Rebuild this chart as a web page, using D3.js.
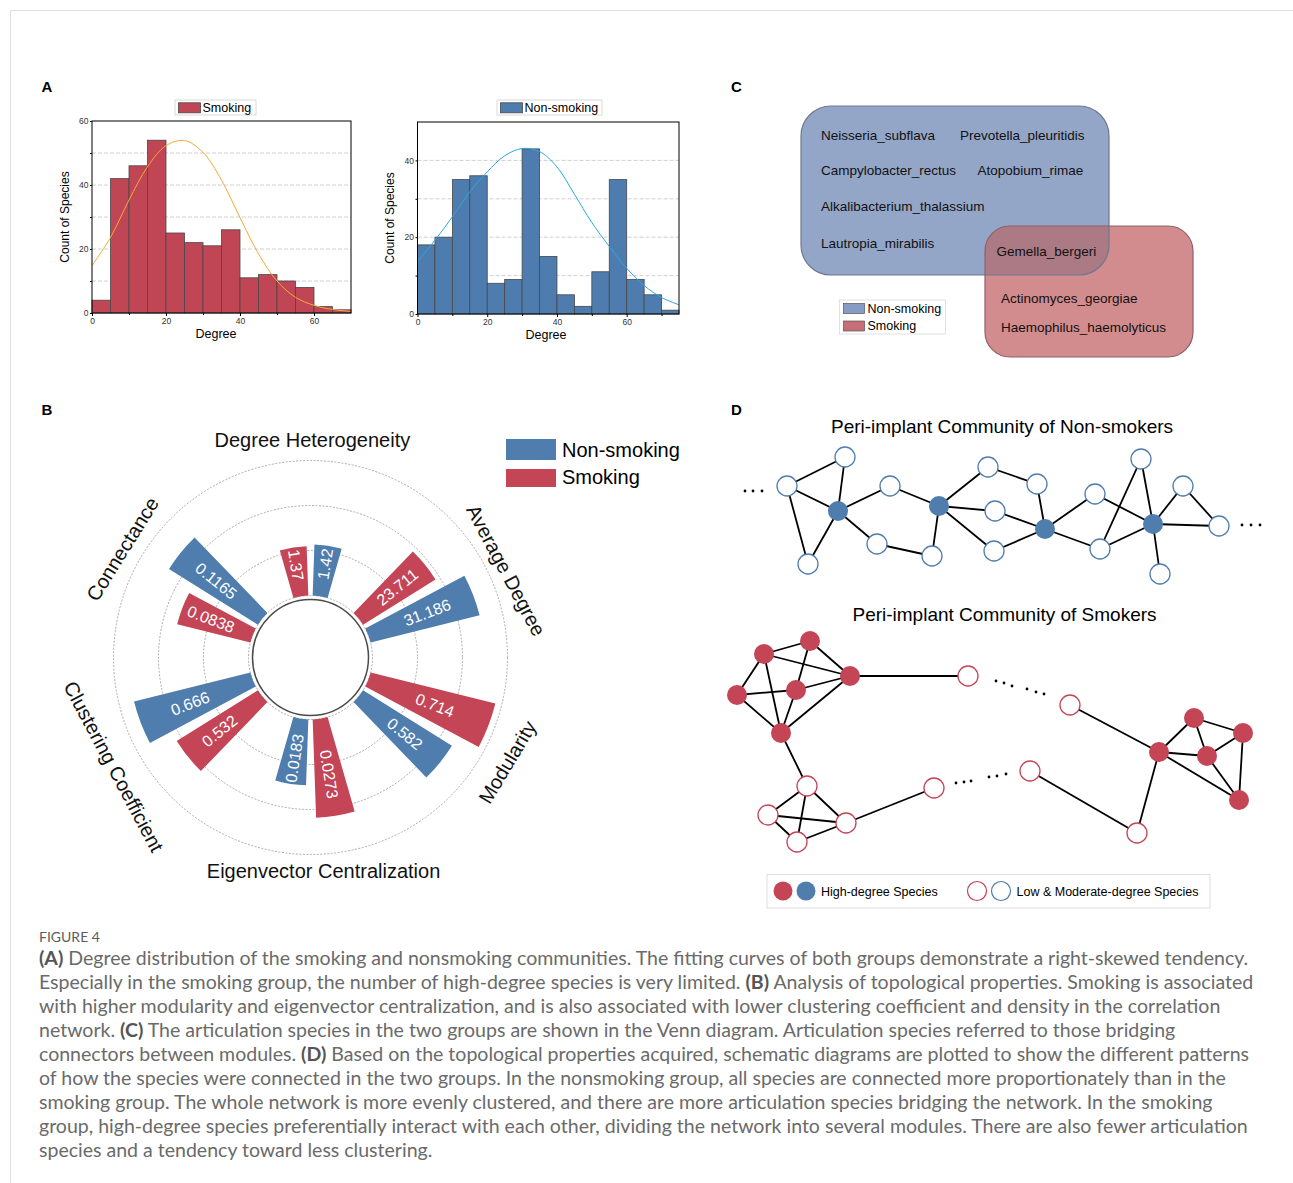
<!DOCTYPE html>
<html>
<head>
<meta charset="utf-8">
<script src="https://cdn.jsdelivr.net/npm/d3@7"></script>
<style>
  body { margin: 0; background: #fff; }
  text { font-family: "Liberation Sans", Arial, sans-serif; }
  text.caption, text.caption tspan { font-family: Lato, "Open Sans", sans-serif; }
</style>
</head>
<body>
<script>
// ---- data ----
const binEdges = [0, 5, 10, 15, 20, 25, 30, 35, 40, 45, 50, 55, 60, 65, 70, 75];
const smokingCounts = [4, 42, 46, 54, 25, 22, 21, 26, 11, 12, 10, 8, 2, 1];
const nonSmokingCounts = [18, 20, 35, 36, 8, 9, 43, 15, 5, 2, 11, 35, 9, 5, 1];
const fitDegree = [0, 5, 10, 15, 20, 25, 30, 35, 40, 45, 50, 55, 60, 65, 70, 75];
const smokingFit = [14.8, 23.6, 35.3, 45.7, 52.3, 53.9, 50.2, 41.5, 29.8, 18.5, 10, 4.9, 2.4, 1.1, 0.5];
const nonSmokingFit = [13.7, 19.2, 25.3, 31.8, 37, 41.2, 43.1, 42.3, 38.3, 31.2, 23.8, 17.6, 11.9, 7.4, 4.3, 2.4];
const degreeTicks = [0, 20, 40, 60];
const degreeMinorTicks = [10, 30, 50, 70];
const smokingCountTicks = [0, 20, 40, 60];
const nonSmokingCountTicks = [0, 20, 40];

const metrics = ["Degree Heterogeneity", "Average Degree", "Modularity",
  "Eigenvector Centralization", "Clustering Coefficient", "Connectance"];
const groups = ["Smoking", "Non-smoking"];
const smokingMetric = [1.37, 23.711, 0.714, 0.0273, 0.532, 0.0838];
const nonSmokingMetric = [1.42, 31.186, 0.582, 0.0183, 0.666, 0.1165];
const metricMax = [5, 50, 1, 0.05, 1, 0.2];
const gridFractions = [0, 0.25, 0.5, 0.75];

const nonSmokingOnly = ["Neisseria_subflava", "Prevotella_pleuritidis", "Campylobacter_rectus",
  "Atopobium_rimae", "Alkalibacterium_thalassium", "Lautropia_mirabilis"];
const sharedSpecies = ["Gemella_bergeri"];
const smokingOnly = ["Actinomyces_georgiae", "Haemophilus_haemolyticus"];

// schematic networks, layout units inside panel D
const nsNodeX = [57, 115, 108, 78, 160, 147, 209, 202, 258, 307, 265, 264, 315, 365, 370, 411, 423, 453, 489, 430];
const nsNodeY = [46, 17, 71, 124, 46, 104, 66, 116, 27, 44, 71, 111, 89, 54, 109, 19, 84, 46, 86, 134];
const nsHub = [0, 0, 1, 0, 0, 0, 1, 0, 0, 0, 0, 0, 1, 0, 0, 0, 1, 0, 0, 0];
const nsEdges = [[0,1],[0,2],[0,3],[1,2],[2,3],[2,4],[2,5],[4,6],[5,7],[6,7],[6,8],[6,10],[6,11],
  [8,9],[9,12],[10,12],[11,12],[12,13],[12,14],[13,16],[14,15],[14,16],[15,16],[16,17],[16,18],[17,18],[16,19]];
const nsDots = [[15,51],[23,51],[32,51],[512,85],[521,85],[530,85]];

const smNodeX = [34, 80, 120, 7, 66, 51, 238, 340, 464, 513, 429, 477, 509, 407, 300, 204, 77, 38, 116, 67];
const smNodeY = [214, 201, 236, 255, 250, 293, 236, 265, 278, 293, 312, 316, 360, 393, 331, 348, 346, 375, 383, 402];
const smHub = [1, 1, 1, 1, 1, 1, 0, 0, 1, 1, 1, 1, 1, 0, 0, 0, 0, 0, 0, 0];
const smEdges = [[0,1],[0,3],[0,2],[0,5],[1,4],[1,2],[3,4],[4,2],[3,5],[4,5],[2,5],[5,16],[2,6],
  [16,17],[16,18],[16,19],[17,18],[17,19],[19,18],[18,15],[7,10],[10,8],[10,11],[10,12],[8,9],[8,11],
  [11,9],[11,12],[9,12],[10,13],[13,14]];
const smDots = [[266,241],[274,243],[282,246],[297,249],[306,252],[314,254],
  [226,343],[234,342],[241,341],[259,337],[267,336],[276,334]];

const captionLines = [
  "(A) Degree distribution of the smoking and nonsmoking communities. The fitting curves of both groups demonstrate a right-skewed tendency.",
  "Especially in the smoking group, the number of high-degree species is very limited. (B) Analysis of topological properties. Smoking is associated",
  "with higher modularity and eigenvector centralization, and is also associated with lower clustering coefficient and density in the correlation",
  "network. (C) The articulation species in the two groups are shown in the Venn diagram. Articulation species referred to those bridging",
  "connectors between modules. (D) Based on the topological properties acquired, schematic diagrams are plotted to show the different patterns",
  "of how the species were connected in the two groups. In the nonsmoking group, all species are connected more proportionately than in the",
  "smoking group. The whole network is more evenly clustered, and there are more articulation species bridging the network. In the smoking",
  "group, high-degree species preferentially interact with each other, dividing the network into several modules. There are also fewer articulation",
  "species and a tendency toward less clustering."
];

// ---- colours ----
const BLUE = "#4f7dae", RED = "#c34556";

const svg = d3.select("body").append("svg").attr("width", 1293).attr("height", 1183);

svg.append("rect").attr("x", 10.5).attr("y", 10.5).attr("width", 1300).attr("height", 1200)
  .attr("fill", "none").attr("stroke", "#dedede");

[["A", 41.5, 92], ["B", 41.5, 415], ["C", 731, 92], ["D", 731, 415]].forEach(p => {
  svg.append("text").attr("x", p[1]).attr("y", p[2]).text(p[0])
    .attr("font-size", 15).attr("font-weight", "bold");
});

// ---- panel A ----
function drawHistogram(o) {
  const g = svg.append("g");
  const x = d3.scaleLinear().domain([0, o.xMax]).range([o.left, o.right]);
  const y = d3.scaleLinear().domain([0, o.yMax]).range([o.bottom, o.top]);

  g.selectAll(".grid").data(d3.range(10, o.yMax, 10)).enter().append("line")
    .attr("x1", o.left).attr("x2", o.right)
    .attr("y1", d => y(d)).attr("y2", d => y(d))
    .attr("stroke", "#c4c4c4").attr("stroke-width", 0.8).attr("stroke-dasharray", "4,2");

  g.selectAll(".bar").data(o.counts).enter().append("rect")
    .attr("x", (d, i) => x(binEdges[i]))
    .attr("width", (d, i) => x(binEdges[i + 1]) - x(binEdges[i]))
    .attr("y", d => y(d))
    .attr("height", d => y(0) - y(d))
    .attr("fill", o.color).attr("stroke", "#474747").attr("stroke-width", 0.8);

  const line = d3.line().x((d, i) => x(fitDegree[i])).y(d => y(d)).curve(d3.curveCatmullRom);
  g.append("path").datum(o.fit).attr("d", line)
    .attr("fill", "none").attr("stroke", o.curveColor).attr("stroke-width", 1);

  g.append("rect").attr("x", o.left).attr("y", o.top)
    .attr("width", o.right - o.left).attr("height", o.bottom - o.top)
    .attr("fill", "none").attr("stroke", "#000").attr("stroke-width", 1);

  const style = a => {
    a.select(".domain").remove();
    a.selectAll("line").attr("stroke", "#000");
    a.selectAll("text").attr("font-size", 8.5).attr("fill", "#333");
  };
  g.append("g").attr("transform", `translate(0,${o.bottom})`)
    .call(d3.axisBottom(x).tickValues(degreeTicks).tickSize(3).tickPadding(2)).call(style);
  g.append("g").attr("transform", `translate(0,${o.bottom})`)
    .call(d3.axisBottom(x).tickValues(degreeMinorTicks.filter(d => d < o.xMax)).tickSize(2).tickFormat("")).call(style);
  g.append("g").attr("transform", `translate(${o.left},0)`)
    .call(d3.axisLeft(y).tickValues(o.yTicks).tickSize(2).tickPadding(1.5)).call(style);
  g.append("g").attr("transform", `translate(${o.left},0)`)
    .call(d3.axisLeft(y).tickValues(d3.range(10, o.yMax, 20)).tickSize(2).tickFormat("")).call(style);

  g.append("text").attr("transform", `translate(${o.left - 23.5},${(o.top + o.bottom) / 2}) rotate(-90)`)
    .attr("text-anchor", "middle").attr("font-size", 12).text("Count of Species");
  g.append("text").attr("x", o.titleX).attr("y", o.bottom + 25)
    .attr("text-anchor", "middle").attr("font-size", 12.5).text("Degree");

  const lg = g.append("g").attr("transform", `translate(${o.legendX},100)`);
  lg.append("rect").attr("width", o.legendW).attr("height", 15)
    .attr("fill", "#fff").attr("stroke", "#d0d0d0").attr("stroke-width", 0.8);
  lg.append("rect").attr("x", 3.5).attr("y", 2.8).attr("width", 22).attr("height", 10)
    .attr("fill", o.color).attr("stroke", "#474747").attr("stroke-width", 0.8);
  lg.append("text").attr("x", 27.5).attr("y", 12).attr("font-size", 12.5).text(o.name);
}

drawHistogram({ left: 92, right: 351, top: 121, bottom: 313, xMax: 70, yMax: 60,
  counts: smokingCounts, fit: smokingFit, yTicks: smokingCountTicks, titleX: 216,
  color: "#c14655", curveColor: "#f5a937", name: "Smoking", legendX: 175, legendW: 81 });
drawHistogram({ left: 417.5, right: 679, top: 122, bottom: 314, xMax: 75, yMax: 50,
  counts: nonSmokingCounts, fit: nonSmokingFit, yTicks: nonSmokingCountTicks, titleX: 546,
  color: "#4e7caf", curveColor: "#2aa8df", name: "Non-smoking", legendX: 497, legendW: 105 });

// ---- panel B ----
const cx = 310.5, cy = 657.5, r0 = 62, rMax = 242;
const pg = svg.append("g").attr("transform", `translate(${cx},${cy})`);
const angle = d3.scaleBand().domain(metrics).range([-Math.PI / 6, 2 * Math.PI - Math.PI / 6]);
const sub = d3.scaleBand().domain(groups)
  .range([-16 * Math.PI / 180, 16 * Math.PI / 180]).paddingInner(4 / 18);
const gridR = d3.scaleLinear().domain([0, 1]).range([r0, rMax]);
const radial = metricMax.map(m => d3.scaleLinear().domain([0, m]).range([r0, rMax]));

pg.selectAll(".ring").data(gridFractions).enter().append("circle")
  .attr("r", d => gridR(d)).attr("fill", "none")
  .attr("stroke", "#8a8a8a").attr("stroke-width", 0.7).attr("stroke-dasharray", "2,1.5");
pg.append("circle").attr("r", 58).attr("fill", "#fff").attr("stroke", "#4a4a4a").attr("stroke-width", 1.5);

const barData = [];
metrics.forEach((m, i) => {
  barData.push({ m, i, g: "Smoking", v: smokingMetric[i], color: RED });
  barData.push({ m, i, g: "Non-smoking", v: nonSmokingMetric[i], color: BLUE });
});
barData.forEach(d => {
  d.a0 = angle(d.m) + angle.bandwidth() / 2 + sub(d.g);
  d.a1 = d.a0 + sub.bandwidth();
  d.r = radial[d.i](d.v);
});
const arc = d3.arc();
pg.selectAll(".bar").data(barData).enter().append("path")
  .attr("d", d => arc({ innerRadius: r0, outerRadius: d.r, startAngle: d.a0, endAngle: d.a1 }))
  .attr("fill", d => d.color);

pg.selectAll(".val").data(barData).enter().append("text")
  .attr("transform", d => {
    const a = (d.a0 + d.a1) / 2, rr = (r0 + d.r) / 2 + 7;
    let deg = a * 180 / Math.PI; deg = (deg + 360) % 360;
    const rot = deg < 180 ? deg - 90 : deg + 90;
    return `translate(${rr * Math.sin(a)},${-rr * Math.cos(a)}) rotate(${rot})`;
  })
  .attr("text-anchor", "middle").attr("dominant-baseline", "central")
  .attr("fill", "#fff").attr("font-size", 16).text(d => String(d.v));

// label placement: position angle, radius, rotation (deg)
const labelPlace = [[0.5, 217.5, 0], [66, 214, 62], [118, 223, -59], [176.5, 213.5, 0], [241, 225, 62], [300, 217, -58]];
pg.selectAll(".cat").data(metrics).enter().append("text")
  .attr("transform", (d, i) => {
    const p = labelPlace[i], a = p[0] * Math.PI / 180;
    return `translate(${p[1] * Math.sin(a)},${-p[1] * Math.cos(a)}) rotate(${p[2]})`;
  })
  .attr("text-anchor", "middle").attr("dominant-baseline", "central")
  .attr("font-size", 20).attr("fill", "#111").text(d => d);

const bl = svg.append("g").attr("transform", "translate(506,439)");
bl.selectAll("rect").data(["Non-smoking", "Smoking"]).enter().append("rect")
  .attr("y", (d, i) => i * 30).attr("width", 50).attr("height", (d, i) => i ? 18 : 21)
  .attr("fill", (d, i) => i ? RED : BLUE);
bl.selectAll("text").data(["Non-smoking", "Smoking"]).enter().append("text")
  .attr("x", 56).attr("y", (d, i) => 17.5 + i * 27).attr("font-size", 20).text(d => d);

// ---- panel C ----
const vc = svg.append("g");
const blueBox = { x: 801, y: 106, w: 308, h: 169, rx: 30 };
const redBox = { x: 985, y: 226, w: 208, h: 131, rx: 25 };
vc.append("clipPath").attr("id", "blueClip").append("rect")
  .attr("x", blueBox.x).attr("y", blueBox.y).attr("width", blueBox.w).attr("height", blueBox.h).attr("rx", blueBox.rx);
const box = (b, fill, stroke) => vc.append("rect").attr("x", b.x).attr("y", b.y)
  .attr("width", b.w).attr("height", b.h).attr("rx", b.rx).attr("ry", b.rx)
  .attr("fill", fill).attr("stroke", stroke).attr("stroke-width", stroke === "none" ? 0 : 1.2);
box(blueBox, "#94a6c7", "none");
box(redBox, "#d28c8e", "none");
box(redBox, "#ac7a85", "none").attr("clip-path", "url(#blueClip)");
box(blueBox, "none", "#6e7892");
box(redBox, "none", "#8e6068");

const vennPos = [[821, 140], [960, 140], [821, 175], [977.5, 175], [821, 211], [821, 248]];
vc.selectAll(".ns").data(nonSmokingOnly).enter().append("text")
  .attr("x", (d, i) => vennPos[i][0]).attr("y", (d, i) => vennPos[i][1])
  .attr("font-size", 13.5).attr("fill", "#111").text(d => d);
vc.selectAll(".sh").data(sharedSpecies).enter().append("text")
  .attr("x", 996.5).attr("y", 256).attr("font-size", 13.5).attr("fill", "#111").text(d => d);
vc.selectAll(".sm").data(smokingOnly).enter().append("text")
  .attr("x", 1001).attr("y", (d, i) => 303 + i * 29).attr("font-size", 13.5).attr("fill", "#111").text(d => d);

const cl = vc.append("g").attr("transform", "translate(839.5,300)");
cl.append("rect").attr("width", 106).attr("height", 34).attr("fill", "#fff").attr("stroke", "#dadada").attr("stroke-width", 0.8);
cl.selectAll(".sw").data(["Non-smoking", "Smoking"]).enter().append("rect")
  .attr("x", 4).attr("y", (d, i) => 3.5 + i * 17.5).attr("width", 21).attr("height", 10)
  .attr("fill", (d, i) => i ? "#c66f76" : "#879cc4").attr("stroke", "#555").attr("stroke-width", 0.7);
cl.selectAll("text").data(["Non-smoking", "Smoking"]).enter().append("text")
  .attr("x", 28).attr("y", (d, i) => 12.5 + i * 17.5).attr("font-size", 12.5).text(d => d);

// ---- panel D ----
const nx = d3.scaleLinear().domain([0, 540]).range([730, 1270]);
const ny = d3.scaleLinear().domain([0, 480]).range([440, 920]);

function drawNetwork(xs, ys, hub, edges, dots, color) {
  const g = svg.append("g");
  g.selectAll("line").data(edges).enter().append("line")
    .attr("x1", d => nx(xs[d[0]])).attr("y1", d => ny(ys[d[0]]))
    .attr("x2", d => nx(xs[d[1]])).attr("y2", d => ny(ys[d[1]]))
    .attr("stroke", "#000").attr("stroke-width", 1.8);
  g.selectAll(".dot").data(dots).enter().append("circle")
    .attr("cx", d => nx(d[0])).attr("cy", d => ny(d[1])).attr("r", 1.4).attr("fill", "#000");
  g.selectAll(".node").data(xs).enter().append("circle")
    .attr("cx", d => nx(d)).attr("cy", (d, i) => ny(ys[i])).attr("r", 10)
    .attr("fill", (d, i) => hub[i] ? color : "#fff")
    .attr("stroke", (d, i) => hub[i] ? "none" : color).attr("stroke-width", 1.3);
}
svg.append("text").attr("x", 1002).attr("y", 433).attr("text-anchor", "middle")
  .attr("font-size", 19).text("Peri-implant Community of Non-smokers");
drawNetwork(nsNodeX, nsNodeY, nsHub, nsEdges, nsDots, BLUE);
svg.append("text").attr("x", 1004.5).attr("y", 621).attr("text-anchor", "middle")
  .attr("font-size", 19).text("Peri-implant Community of Smokers");
drawNetwork(smNodeX, smNodeY, smHub, smEdges, smDots, RED);

const dl = svg.append("g");
dl.append("rect").attr("x", 767).attr("y", 874.5).attr("width", 443).attr("height", 33.5)
  .attr("fill", "#fff").attr("stroke", "#dedede");
const legendNodes = [[783, RED, 1], [806, BLUE, 1], [977, RED, 0], [1001, BLUE, 0]];
dl.selectAll("circle").data(legendNodes).enter().append("circle")
  .attr("cx", d => d[0]).attr("cy", 891).attr("r", 9.5)
  .attr("fill", d => d[2] ? d[1] : "#fff").attr("stroke", d => d[2] ? "none" : d[1]).attr("stroke-width", 1.2);
dl.append("text").attr("x", 821).attr("y", 895.5).attr("font-size", 12.5).text("High-degree Species");
dl.append("text").attr("x", 1016.5).attr("y", 895.5).attr("font-size", 12.5).text("Low & Moderate-degree Species");

// ---- caption ----
const cap = svg.append("g");
cap.append("text").attr("class", "caption").attr("x", 39).attr("y", 941.5)
  .attr("font-size", 14).attr("fill", "#5c5c5c").text("FIGURE 4");
const capText = cap.selectAll(".cap").data(captionLines).enter().append("text")
  .attr("class", "caption")
  .attr("x", 39).attr("y", (d, i) => 965 + i * 24)
  .attr("font-size", 17).attr("fill", "#6a6a6a");
capText.each(function (d) {
  const t = d3.select(this);
  d.split(/(\([A-D]\))/).filter(s => s.length).forEach(s => {
    const bold = /^\([A-D]\)$/.test(s);
    t.append("tspan").text(s)
      .attr("font-weight", bold ? "bold" : null)
      .attr("fill", bold ? "#555" : null);
  });
});
const firstLen = capText.node().getComputedTextLength();
capText.attr("font-size", 17 * 1210 / firstLen);
</script>
</body>
</html>
